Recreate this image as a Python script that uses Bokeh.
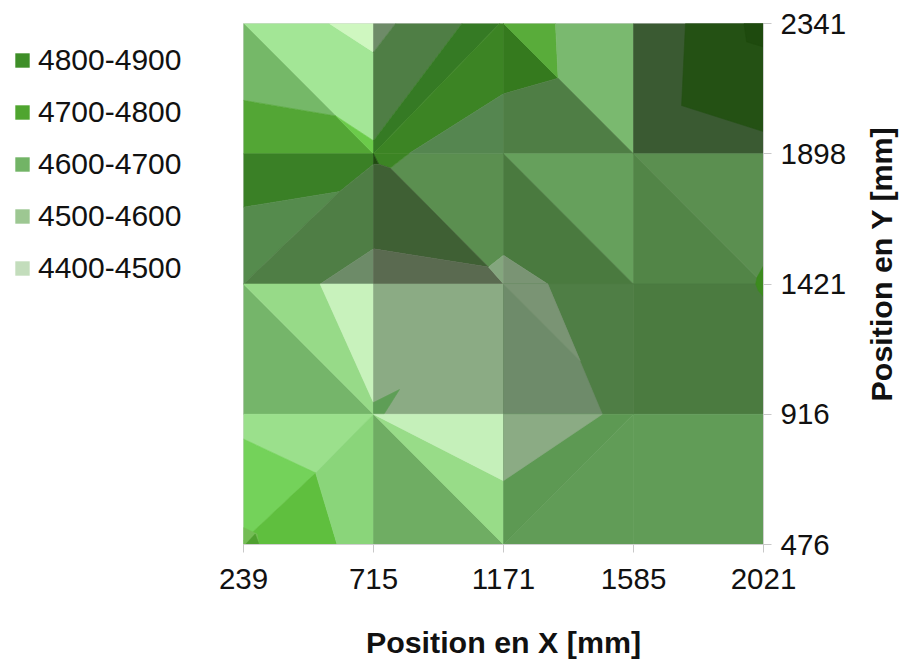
import math
from bokeh.embed import file_html
from bokeh.resources import INLINE
from bokeh.layouts import row
from bokeh.plotting import figure
from bokeh.models import Range1d, FixedTicker, Legend, LegendItem
from bokeh.core.properties import value

x_labels = ["239", "715", "1171", "1585", "2021"]
y_labels = ["476", "916", "1421", "1898", "2341"]
bands = ["4800-4900", "4700-4800", "4600-4700", "4500-4600", "4400-4500"]
band_fill = ["#3E8E28", "#4FA52F", "#72B466", "#9DC792", "#C3DDBC"]

# Contour facets, read in grid-index units (column, row), in paint order
zone_x = [
    [0,.66,1,1,.71], [.66,1,1], [0,.71,0], [0,.71,1,0], [.71,1,1],
    [1,1.17,1], [1.17,1.68,1,1], [1.68,1.97,1,1], [1.97,2,2,1.27,1], [2,2,1.27],
    [2,2.42,2], [2,2.40,2.42], [2.40,3,3,2.42], [2,2.42,3,2],
    [3,4,4,3], [3.40,4,4,3.37], [3.85,4,4,3.87],
    [0,1,1,.74,0], [0,.74,0], [1,.74,0,.59,1], [.59,1,1],
    [1.27,2,2,1.885,1.13], [1,1.27,1.13,1.04], [1,1.04,1], [1,1.04,1.13,1.885,1], [1,1.885,2,1], [1.885,2,2],
    [2,3,3], [2,3,2.34,2], [2,2.34,2],
    [3,4,4], [3,4,3],
    [0,1,0], [0,.59,1,1], [.59,1,1],
    [1,2,2,1], [1,1.2,1.08,1],
    [2,3,3,2], [2,2.34,2.76,2], [2,2.34,2.59],
    [3,4,4,3],
    [0,1,.555,0], [0,.555,0], [.555,.72,0,0], [0,.105,.12,0], [.09,.12,.015], [1,1,.72,.555],
    [1,2,1], [1,2,2], [1,2,2],
    [2,3,2], [3,3,2], [2,2.76,2],
    [3,4,4,3],
    [4,3.95,3.94,3.96,4],
]
zone_y = [
    [4,4,3.78,3.10,3.29], [4,4,3.78], [4,3.29,3.41], [3.41,3.29,3,3], [3.29,3.10,3],
    [4,4,3.78], [4,4,3.10,3.78], [4,4,3,3.10], [4,4,3.46,3,3], [3.46,3,3],
    [4,3.58,3.46], [4,4,3.58], [4,4,3,3.58], [3.46,3.58,3,3],
    [4,4,3,3], [4,4,3.17,3.37], [4,4,3.82,3.86],
    [3,3,2.92,2.71,2.59], [2.59,2.71,2], [2.92,2.71,2,2,2.27], [2,2.27,2],
    [3,3,2.22,2.13,2.89], [3,3,2.89,2.92], [3,2.92,2.92], [2.92,2.92,2.89,2.13,2.27], [2.27,2.13,2,2], [2.13,2.22,2],
    [3,3,2], [3,2,2,2.22], [2.22,2,2],
    [3,3,2], [3,2,2],
    [2,1,1], [2,2,1.09,1], [2,2,1.09],
    [2,2,1,1], [1.09,1.19,1,1],
    [2,2,1,1], [2,2,1,1], [2,2,1.41],
    [2,2,1,1],
    [1,1,.55,.81], [.81,.55,.03], [.55,0,0,.03], [.13,.08,0,0], [.08,0,0], [1,0,0,.55],
    [1,0,0], [1,.49,0], [1,1,.49],
    [1,1,0], [1,0,0], [1,1,.49],
    [1,1,0,0],
    [2.14,2.05,2.0,1.95,1.90],
]
zone_fill = [
    "#A3E696", "#CFF7C0", "#75B868", "#53A635", "#6BCB4A",
    "#6E8B68", "#4F7E45", "#357A24", "#3C8424", "#558650",
    "#357A1E", "#59AC3A", "#7AB96F", "#4F7E45",
    "#3A5A32", "#245114", "#1E4A0E",
    "#3A8026", "#558B4D", "#4F7E45", "#6D8B68",
    "#5B8F50", "#3C8424", "#1F4A10", "#3F6034", "#5A6A50", "#84A67E",
    "#66A05C", "#4A7A3F", "#7A9474",
    "#5B8F50", "#528547",
    "#75B56A", "#97DA88", "#C8F2BC",
    "#8BAB84", "#5E9E56",
    "#4F7E45", "#6E8B6A", "#7A9474",
    "#4B7B40",
    "#9BE08C", "#74D25A", "#5FBF3E", "#74BD55", "#4FA030", "#8AD57A",
    "#6FAD63", "#98DC88", "#C5F0BA",
    "#5D9953", "#619C57", "#8BAB84",
    "#619C57",
    "#3C8B1E",
]

FONT = "Liberation Sans"
p = figure(frame_width=520, frame_height=521, output_backend="svg", toolbar_location=None,
           x_range=Range1d(0, 4), y_range=Range1d(0, 4), y_axis_location="right",
           min_border_left=33, min_border_right=92, min_border_top=23, min_border_bottom=116,
           background_fill_color="white", border_fill_color="white")
p.outline_line_color = "#D8D8D8"
p.grid.visible = False

p.patches(zone_x, zone_y, fill_color=zone_fill, line_color=zone_fill, line_width=0.6)

ticks = list(range(5))
for ax, labels in ((p.xaxis[0], x_labels), (p.yaxis[0], y_labels)):
    ax.ticker = FixedTicker(ticks=ticks)
    ax.major_label_overrides = dict(zip(ticks, labels))
    ax.minor_tick_line_color = None
    ax.major_tick_in = 0
    ax.major_tick_out = 8
    ax.major_tick_line_color = "#C8C8C8"
    ax.axis_line_color = "#D0D0D0"
    ax.major_label_text_font = FONT
    ax.major_label_text_font_size = "29.5px"
    ax.major_label_text_color = "#111111"
p.xaxis[0].major_label_standoff = 16
p.yaxis[0].major_label_standoff = 9

xa = p.xaxis[0]
xa.axis_label = "Position en X [mm]"
xa.axis_label_text_font = FONT
xa.axis_label_text_font_size = "30.4px"
xa.axis_label_text_font_style = "bold"
xa.axis_label_text_color = "#111111"
xa.axis_label_standoff = 33

# Column to the right of the plot, holding the rotated Y title
rf = figure(width=45, height=660, output_backend="svg", toolbar_location=None,
            x_range=Range1d(0, 45), y_range=Range1d(0, 660),
            min_border_left=0, min_border_right=0, min_border_top=0, min_border_bottom=0)
rf.axis.visible = False
rf.grid.visible = False
rf.outline_line_color = None
rf.text(x=[25], y=[355], text=["Position en Y [mm]"], angle=math.pi / 2,
        text_align="center", text_baseline="middle", text_font=value(FONT),
        text_font_size="30.4px", text_font_style="bold", text_color="#111111")

# Legend column to the left of the plot
lf = figure(width=210, height=653, output_backend="svg", toolbar_location=None,
            x_range=Range1d(0, 1), y_range=Range1d(0, 1),
            min_border_left=0, min_border_right=0, min_border_top=0, min_border_bottom=0)
lf.axis.visible = False
lf.grid.visible = False
lf.outline_line_color = None

nan = float("nan")
items = []
for label, color in zip(bands, band_fill):
    r = lf.quad(left=[nan], right=[nan], top=[nan], bottom=[nan], fill_color=color, line_color=None)
    items.append(LegendItem(label=label, renderers=[r]))
legend = Legend(items=items, location=(13, 251), background_fill_alpha=0, border_line_color=None,
                label_text_font=FONT, label_text_font_size="30px", label_text_color="#111111",
                glyph_width=18, glyph_height=18, label_standoff=7, spacing=18, padding=0, margin=0)
lf.add_layout(legend, "center")

page = row(lf, p, rf, spacing=0)
open("out.html", "w").write(file_html(page, INLINE))
